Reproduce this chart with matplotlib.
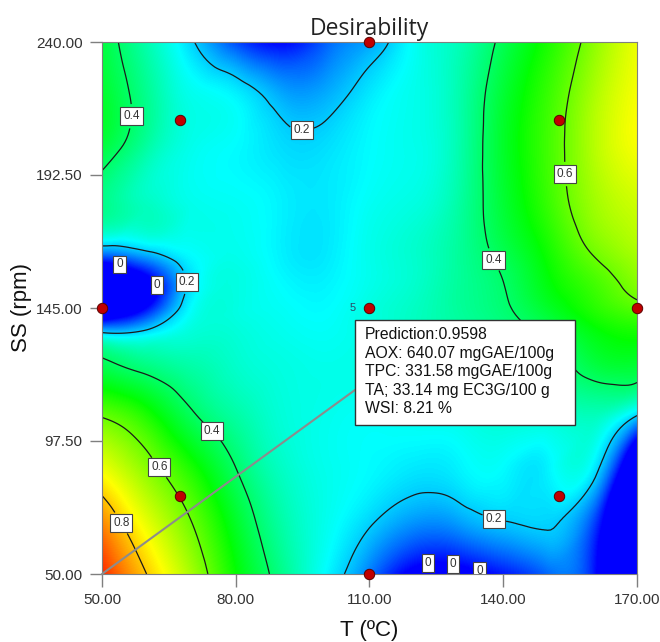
import numpy as np
import matplotlib
matplotlib.use("Agg")
import matplotlib.pyplot as plt
import matplotlib.tri as mtri
from matplotlib.colors import LinearSegmentedColormap
from matplotlib.patches import Rectangle

plt.rcParams['font.family'] = ['Liberation Sans', 'DejaVu Sans']

# factor levels of the grid (T in degC, SS in rpm)
T_grid = [50, 60, 70, 80, 90, 100, 110, 120, 130, 140, 150, 160, 170]
SS_grid = [50, 69, 88, 107, 126, 135.5, 145, 154.5, 164, 183, 202, 221, 240]

# desirability, one row per SS level (T = 50 ... 170)
d_50 = [0.96, 0.80, 0.66, 0.50, 0.37, 0.25, 0.12, -0.03, -0.04, 0.02, 0.10, 0.03, -0.50]
d_69 = [0.86, 0.72, 0.60, 0.46, 0.34, 0.27, 0.21, 0.15, 0.16, 0.20, 0.21, 0.08, -0.40]
d_88 = [0.73, 0.63, 0.52, 0.40, 0.31, 0.27, 0.25, 0.23, 0.24, 0.25, 0.24, 0.24, -0.25]
d_107 = [0.59, 0.52, 0.41, 0.34, 0.29, 0.27, 0.26, 0.27, 0.28, 0.30, 0.30, 0.32, 0.21]
d_126 = [0.41, 0.36, 0.33, 0.30, 0.28, 0.27, 0.28, 0.30, 0.33, 0.35, 0.37, 0.44, 0.46]
d_135 = [0.23, 0.24, 0.29, 0.29, 0.27, 0.26, 0.28, 0.31, 0.34, 0.37, 0.41, 0.48, 0.51]
d_145 = [-0.20, 0.00, 0.25, 0.28, 0.26, 0.25, 0.28, 0.31, 0.35, 0.39, 0.46, 0.53, 0.58]
d_154 = [-0.30, -0.05, 0.22, 0.28, 0.25, 0.24, 0.27, 0.30, 0.35, 0.40, 0.49, 0.56, 0.63]
d_164 = [0.10, 0.17, 0.25, 0.27, 0.24, 0.23, 0.27, 0.30, 0.35, 0.42, 0.51, 0.60, 0.66]
d_183 = [0.37, 0.31, 0.27, 0.26, 0.24, 0.23, 0.26, 0.28, 0.34, 0.45, 0.55, 0.65, 0.70]
d_202 = [0.44, 0.34, 0.27, 0.25, 0.22, 0.22, 0.25, 0.27, 0.33, 0.46, 0.56, 0.67, 0.74]
d_221 = [0.46, 0.36, 0.27, 0.24, 0.17, 0.17, 0.23, 0.27, 0.33, 0.45, 0.55, 0.66, 0.74]
d_240 = [0.44, 0.33, 0.21, 0.07, 0.00, 0.09, 0.16, 0.26, 0.32, 0.42, 0.52, 0.63, 0.73]

# design points (central composite design)
pt_T = [67.57, 152.43, 67.57, 152.43, 50, 170, 110, 110, 110]
pt_SS = [212.17, 212.17, 77.83, 77.83, 145, 145, 50, 240, 145]

# optimum and its prediction
pred_T, pred_SS = 50, 50
pred_lines = ["Prediction:0.9598",
              "AOX: 640.07 mgGAE/100g",
              "TPC: 331.58 mgGAE/100g",
              "TA; 33.14 mg EC3G/100 g",
              "WSI: 8.21 %"]

x_ticks = [50, 80, 110, 140, 170]
y_ticks = [50, 97.5, 145, 192.5, 240]

desir = np.array([d_50, d_69, d_88, d_107, d_126, d_135, d_145,
                  d_154, d_164, d_183, d_202, d_221, d_240])
TT, SSg = np.meshgrid(T_grid, SS_grid)

# split every grid cell the same way
nr, nc = desir.shape
tris = []
for i in range(nr - 1):
    for j in range(nc - 1):
        k = i * nc + j
        tris.append([k, k + 1, k + nc + 1])
        tris.append([k, k + nc + 1, k + nc])
tri = mtri.Triangulation(TT.ravel(), SSg.ravel(), triangles=tris)
interp = mtri.CubicTriInterpolator(tri, desir.ravel(), kind="min_E")
tri_f, z_f = mtri.UniformTriRefiner(tri).refine_field(desir.ravel(), triinterpolator=interp,
                                                       subdiv=4)

cmap = LinearSegmentedColormap.from_list(
    "desir", ["#0000ff", "#00ffff", "#00ff00", "#ffff00", "#ff0000"])

fig = plt.figure(figsize=(6.6, 6.42), dpi=100)
ax = fig.add_axes([102 / 660, 1 - 574 / 642, 535 / 660, 532 / 642])

# values below zero show as zero desirability (under colour = blue)
ax.tricontourf(tri_f, z_f, levels=np.linspace(0, 1, 256), cmap=cmap, extend="both",
               antialiased=False)

cs = ax.tricontour(tri_f, z_f, levels=[0.2, 0.4, 0.6, 0.8], colors="#1a1a1a", linewidths=0.9)
lbl_pos = [(55.6, 213.6), (94.9, 212.9), (157.7, 193.2), (140.4, 164.3), (69, 154.3),
           (75.3, 102.1), (64.1, 89.6), (55.4, 69.3), (138.2, 71.1)]
lbls = ax.clabel(cs, fmt="%.1f", manual=lbl_pos, inline=True, inline_spacing=4, fontsize=8.5)
cs0 = ax.tricontour(tri_f, z_f, levels=[0.0], colors="#1a1a1a", linewidths=0)
lbl0_pos = [(54.5, 164), (63.5, 154), (123.1, 53.9), (129.2, 57.1), (135.2, 53.9)]
lbls0 = ax.clabel(cs0, fmt="%g", manual=lbl0_pos, inline=False, fontsize=8.5)
for t in list(lbls) + list(lbls0):
    t.set_rotation(0)
    t.set_color("#333333")
    t.set_bbox(dict(boxstyle="square,pad=0.25", fc="white", ec="#444444", lw=0.8))

ax.plot(pt_T, pt_SS, "o", ms=7.5, mfc="#c00000", mec="#5a0000", mew=0.7,
        clip_on=False, zorder=7)
ax.annotate("5", xy=(110, 145), xytext=(-10, 0), textcoords="offset points",
            ha="right", va="center", fontsize=8, color="#2d4a66")

# prediction box with leader line to the optimum
ax.annotate("", xy=(pred_T, pred_SS), xytext=(0.473, 0.346), textcoords="axes fraction",
            arrowprops=dict(arrowstyle="-", color="#8c8c8c", lw=1.5, shrinkA=0, shrinkB=0),
            zorder=5)
ax.add_patch(Rectangle((0.473, 0.280), 0.411, 0.197, transform=ax.transAxes,
                       fc="white", ec="#333333", lw=1, zorder=6))
ax.text(0.4916, 0.464, "\n".join(pred_lines), transform=ax.transAxes, ha="left", va="top",
        fontsize=11.3, linespacing=1.29, color="#111111", zorder=7)

ax.set_xlim(50, 170)
ax.set_ylim(50, 240)
ax.set_xticks(x_ticks)
ax.set_xticklabels([f"{v:.2f}" for v in x_ticks])
ax.set_yticks(y_ticks)
ax.set_yticklabels([f"{v:.2f}" for v in y_ticks])
for s in ax.spines.values():
    s.set_color("#7f7f7f")
ax.tick_params(direction="out", length=9, width=1, color="#7f7f7f",
               labelsize=11, labelcolor="#333333", pad=5)

ax.set_title("Desirability", fontsize=16.5, family=["Open Sans", "DejaVu Sans"],
             pad=5, color="#222222")
ax.set_xlabel("T (ºC)", fontsize=16, labelpad=9, color="#111111")
ax.set_ylabel("SS (rpm)", fontsize=16, labelpad=3, color="#111111")

fig.savefig("out.png", dpi=100)
